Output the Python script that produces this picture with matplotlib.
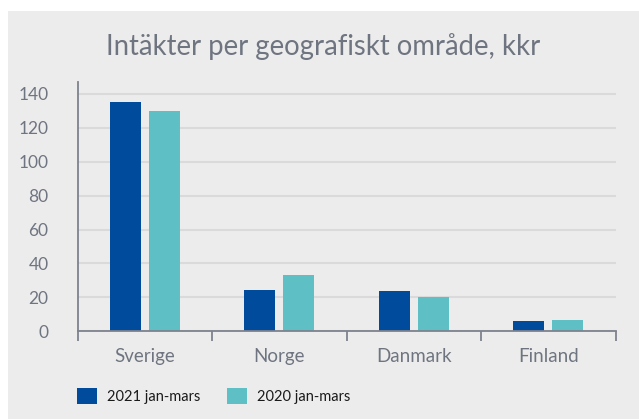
import matplotlib
matplotlib.use("Agg")
import matplotlib.pyplot as plt
from matplotlib.patches import Rectangle, Patch
import numpy as np

plt.rcParams['font.family'] = ['Lato', 'DejaVu Sans']

categories = ["Sverige", "Norge", "Danmark", "Finland"]
series_names = ["2021 jan-mars", "2020 jan-mars"]
values_2021 = [135, 24.5, 23.5, 6]
values_2020 = [130, 33, 20, 6.7]
yticks = [0, 20, 40, 60, 80, 100, 120, 140]

W, H = 639, 419
fig = plt.figure(figsize=(W / 100, H / 100), dpi=100, facecolor="white")
fig.patches.append(Rectangle((8 / W, 0), (W - 8) / W, (H - 11) / H,
                             transform=fig.transFigure, facecolor="#ececec",
                             edgecolor="none", zorder=-10))

ax = fig.add_axes([77.7 / W, 1 - 331.3 / H, (615.7 - 77.7) / W, (331.3 - 82) / H])
ax.set_facecolor("none")
ax.set_zorder(2)

c21 = "#004b9b"
c20 = "#5ec0c4"
text_grey = "#6f7580"
axis_grey = "#7d828d"

x = np.arange(len(categories))
bw = 0.23
off = 0.145
ax.bar(x - off, values_2021, bw, color=c21, zorder=3, label=series_names[0])
ax.bar(x + off, values_2020, bw, color=c20, zorder=3, label=series_names[1])

ax.set_xlim(-0.5, len(categories) - 0.5)
ax.set_ylim(0, 147)

ax.set_yticks(yticks)
ax.set_yticklabels([str(v) for v in yticks])
ax.tick_params(axis="y", length=0, pad=21, labelsize=12.5, labelcolor=text_grey)
ax.set_yticks([0], minor=True)
ax.tick_params(axis="y", which="minor", length=4.5, width=1.3, color=axis_grey)

ax.set_xticks(x)
ax.set_xticklabels(categories)
ax.tick_params(axis="x", length=0, pad=12, labelsize=13.5, labelcolor=text_grey)
ax.set_xticks(np.arange(-0.5, len(categories)), minor=True)
ax.tick_params(axis="x", which="minor", length=7, width=1.3, color=axis_grey, direction="out")

ax.grid(axis="y", color="#dadada", linewidth=1.5, zorder=0)
for s in ["top", "right"]:
    ax.spines[s].set_visible(False)
for s in ["left", "bottom"]:
    ax.spines[s].set_color(axis_grey)
    ax.spines[s].set_linewidth(1.3)
    ax.spines[s].set_zorder(4)

fig.text(323.5 / W, 1 - 47 / H, "Intäkter per geografiskt område, kkr",
         ha="center", va="center", fontsize=19.8, color=text_grey)

handles = [Patch(facecolor=c21, edgecolor="none"), Patch(facecolor=c20, edgecolor="none")]
fs = 10.5
fpx = fs * 100 / 72
fig.legend(handles, series_names, loc="center left",
           bbox_to_anchor=(76.7 / W, 1 - 396 / H), ncol=2, frameon=False,
           fontsize=fs, borderpad=0, borderaxespad=0,
           handlelength=20 / fpx, handleheight=20 / fpx,
           handletextpad=10.5 / fpx, columnspacing=26 / fpx,
           labelcolor="#1a1a1a")

fig.savefig("out.png", dpi=100, facecolor="white")
